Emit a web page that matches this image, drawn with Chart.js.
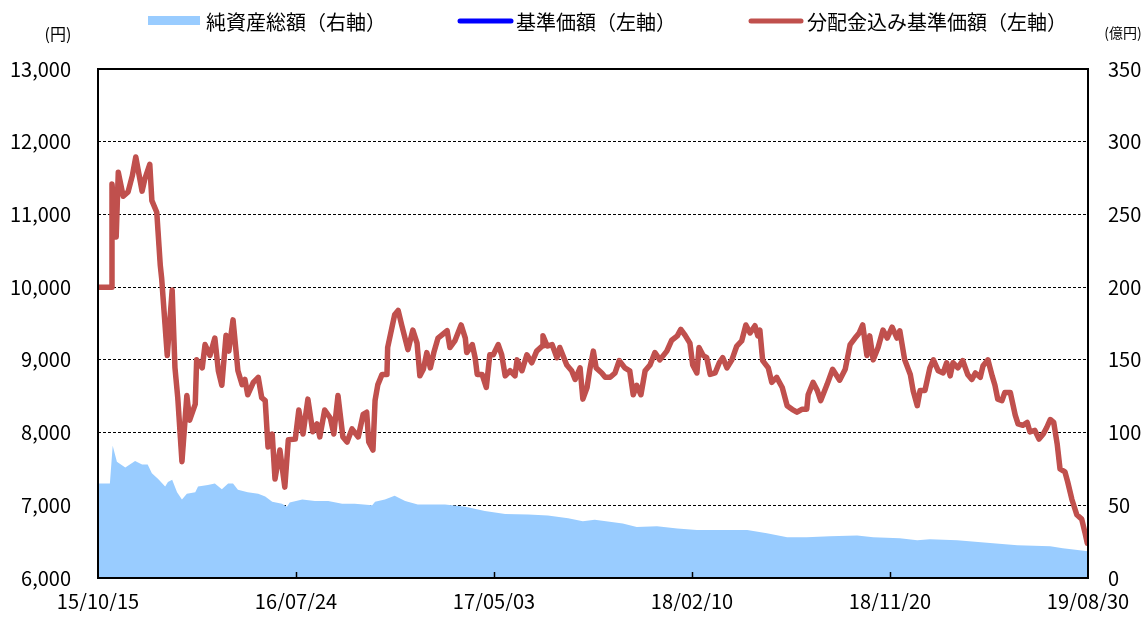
<!DOCTYPE html>
<html lang="ja">
<head>
<meta charset="utf-8">
<title>基準価額・純資産総額の推移</title>
<script src="https://cdn.jsdelivr.net/npm/chart.js@4.4.1/dist/chart.umd.min.js"></script>
<style>
  html, body { margin: 0; padding: 0; background: #fff; }
  #wrap { width: 1148px; height: 617px; position: relative; }
</style>
</head>
<body>
<div id="wrap"><canvas id="navChart"></canvas></div>
<script>
// ─── Data (x = days since 2015/10/15) ──────────────────────────────────────
const xTickDays   = [0, 283, 566, 849, 1132, 1415];
const xTickLabels = ['15/10/15', '16/07/24', '17/05/03', '18/02/10', '18/11/20', '19/08/30'];
const leftTicks   = [6000, 7000, 8000, 9000, 10000, 11000, 12000, 13000];
const rightTicks  = [0, 50, 100, 150, 200, 250, 300, 350];

// 分配金込み基準価額 (円)
const navDays = [
    0, 19, 20, 26, 29, 36, 43, 49, 54, 63, 67, 74, 77, 84, 89, 91, 99, 106, 110, 114,
    120, 127, 131, 139, 141, 149, 153, 160, 167, 172, 177, 183, 187, 193, 200, 206, 210, 214, 222, 229,
    234, 239, 243, 249, 253, 260, 267, 272, 282, 287, 293, 300, 307, 313, 317, 324, 332, 337, 343, 350,
    356, 363, 372, 379, 384, 387, 393, 396, 400, 406, 413, 414, 420, 424, 429, 434, 443, 450, 456, 460,
    465, 470, 475, 480, 486, 499, 503, 510, 519, 525, 527, 535, 539, 542, 549, 555, 560, 565, 572, 577,
    582, 589, 596, 599, 606, 613, 620, 627, 635, 636, 642, 649, 656, 660, 670, 677, 682, 689, 693, 699,
    703, 708, 712, 720, 725, 732, 739, 745, 753, 760, 765, 770, 776, 782, 789, 796, 803, 813, 820, 828,
    833, 839, 846, 850, 856, 859, 865, 870, 875, 882, 888, 893, 899, 906, 913, 920, 926, 932, 939, 943,
    946, 950, 958, 963, 970, 978, 985, 992, 999, 1006, 1013, 1015, 1022, 1028, 1033, 1042, 1050, 1060, 1068, 1075,
    1082, 1088, 1093, 1099, 1103, 1108, 1115, 1122, 1128, 1135, 1142, 1146, 1153, 1161, 1165, 1171, 1175, 1182, 1189, 1194,
    1201, 1208, 1213, 1218, 1222, 1229, 1236, 1243, 1249, 1254, 1261, 1265, 1272, 1278, 1282, 1286, 1292, 1296, 1304, 1311,
    1315, 1322, 1328, 1332, 1339, 1345, 1351, 1356, 1361, 1366, 1371, 1375, 1382, 1386, 1392, 1399, 1406, 1411, 1414, 1415
];
const navValues = [
    10000, 10000, 11420, 10690, 11580, 11250, 11310, 11530, 11790, 11320, 11490, 11690, 11190, 11030, 10300, 10120, 9060, 9960, 8890, 8480,
    7600, 8510, 8170, 8390, 9000, 8890, 9210, 9060, 9300, 8850, 8650, 9340, 9120, 9550, 8850, 8660, 8730, 8520, 8690, 8760,
    8480, 8440, 7800, 7980, 7360, 7760, 7250, 7900, 7910, 8310, 7980, 8460, 8010, 8120, 7940, 8310, 8200, 7980, 8510, 7940,
    7870, 8050, 7940, 8250, 8280, 7870, 7760, 8440, 8660, 8800, 8800, 9170, 9440, 9620, 9680, 9480, 9140, 9410, 9230, 8780,
    8870, 9100, 8890, 9100, 9300, 9400, 9170, 9260, 9480, 9300, 9100, 9210, 9030, 8800, 8800, 8620, 9070, 9070, 9210, 9070,
    8780, 8850, 8780, 9000, 8850, 9070, 8960, 9120, 9190, 9330, 9190, 9210, 9030, 9170, 8930, 8850, 8730, 8890, 8460, 8620,
    8870, 9120, 8890, 8820, 8760, 8760, 8820, 8990, 8890, 8850, 8520, 8650, 8520, 8850, 8930, 9100, 9000, 9120, 9270, 9330,
    9420, 9340, 9230, 8930, 8820, 9170, 9060, 9030, 8800, 8820, 8960, 9030, 8890, 9000, 9190, 9260, 9480, 9370, 9470, 9330,
    9410, 8990, 8890, 8690, 8760, 8620, 8370, 8320, 8280, 8320, 8320, 8520, 8690, 8580, 8440, 8660, 8870, 8720, 8870, 9210,
    9300, 9370, 9480, 9060, 9330, 9000, 9170, 9410, 9300, 9450, 9300, 9400, 9000, 8800, 8580, 8370, 8580, 8580, 8890, 9000,
    8850, 8820, 8960, 8780, 8960, 8890, 8990, 8800, 8730, 8820, 8760, 8920, 9000, 8780, 8650, 8460, 8440, 8550, 8550, 8240,
    8120, 8100, 8140, 8010, 8030, 7910, 7980, 8070, 8180, 8140, 7840, 7500, 7460, 7320, 7080, 6870, 6810, 6610, 6480, 6570
];
// 基準価額 (円) — no distributions in the period, so it runs under the red line
const baseValues = navValues;

// 純資産総額 (億円)
const assetDays = [
    0, 17, 21, 27, 39, 53, 63, 71, 77, 86, 96, 100, 106, 113, 120, 127, 139, 143, 157, 167,
    177, 186, 193, 200, 214, 229, 239, 249, 263, 270, 274, 292, 310, 329, 349, 367, 392, 396, 410, 424,
    439, 457, 496, 525, 553, 582, 615, 643, 672, 693, 710, 750, 770, 799, 828, 856, 893, 928, 956, 985,
    1013, 1046, 1085, 1108, 1146, 1171, 1189, 1228, 1275, 1314, 1361, 1379, 1415
];
const assetValues = [
    65, 65, 91, 80, 76, 80.5, 78, 78, 72, 68, 63, 66, 67.5, 59, 54, 58, 59, 63, 64, 65,
    61, 65, 65, 60.7, 59, 58, 56, 52.5, 51, 49, 52, 54, 53, 53, 51, 51, 50, 52.5, 54, 56.6,
    53, 50.5, 50.5, 49, 46, 44, 43.7, 43, 41, 39, 40, 37.5, 35, 35.5, 34, 33, 33, 33, 30.7, 28,
    28, 28.7, 29.3, 28, 27.3, 26, 26.6, 26, 24, 22.5, 21.8, 20.5, 18.4
];

// ─── Style ────────────────────────────────────────────────────────────────
const FONT = '"Noto Sans CJK JP", "Noto Sans", sans-serif';
const RED  = '#C0504D';
const BLUE = '#0000FF';
const AREA = '#99CCFF';

Chart.defaults.font.family = FONT;
Chart.defaults.color = '#000';

function pairs(days, values) {
    return days.map(function (d, i) { return { x: d, y: values[i] }; });
}

// ─── Frame, inner x ticks, units and legend ───────────────────────────────
const decorPlugin = {
    id: 'decor',
    afterDraw: function (chart) {
        const ctx = chart.ctx;
        const a = chart.chartArea;
        const xs = chart.scales.x;

        ctx.save();
        // plot frame
        ctx.strokeStyle = '#000';
        ctx.lineWidth = 2;
        ctx.strokeRect(a.left, a.top, a.right - a.left, a.bottom - a.top);

        // small inward tick marks on the date axis
        ctx.lineWidth = 1.5;
        xTickDays.slice(1, -1).forEach(function (d) {
            const px = Math.round(xs.getPixelForValue(d)) + 0.5;
            ctx.beginPath();
            ctx.moveTo(px, a.bottom);
            ctx.lineTo(px, a.bottom - 6);
            ctx.stroke();
        });

        // units
        ctx.fillStyle = '#000';
        ctx.textBaseline = 'middle';
        ctx.textAlign = 'center';
        ctx.font = '16px ' + FONT;
        ctx.fillText('(円)', 58, 34);
        ctx.font = '14px ' + FONT;
        ctx.fillText('(億円)', 1123, 33);

        // legend
        ctx.textAlign = 'left';
        ctx.font = '20px ' + FONT;
        ctx.fillStyle = AREA;
        ctx.fillRect(148, 16, 52, 9);
        ctx.fillStyle = '#000';
        ctx.fillText(chart.data.datasets[0].label, 206, 22);

        ctx.lineCap = 'round';
        ctx.lineWidth = 5;
        ctx.strokeStyle = BLUE;
        ctx.beginPath(); ctx.moveTo(460, 21); ctx.lineTo(511, 21); ctx.stroke();
        ctx.fillText(chart.data.datasets[1].label, 516, 22);

        ctx.strokeStyle = RED;
        ctx.beginPath(); ctx.moveTo(751, 21); ctx.lineTo(801, 21); ctx.stroke();
        ctx.fillText(chart.data.datasets[2].label, 807, 22);
        ctx.restore();
    }
};

new Chart(document.getElementById('navChart'), {
    type: 'line',
    data: {
        datasets: [
            {
                label: '純資産総額（右軸）',
                data: pairs(assetDays, assetValues),
                yAxisID: 'y1',
                backgroundColor: AREA,
                borderWidth: 0,
                fill: 'origin',
                pointRadius: 0,
                order: 3
            },
            {
                label: '基準価額（左軸）',
                data: pairs(navDays, baseValues),
                yAxisID: 'y',
                borderColor: BLUE,
                borderWidth: 4,
                borderJoinStyle: 'round',
                borderCapStyle: 'round',
                pointRadius: 0,
                fill: false,
                order: 2
            },
            {
                label: '分配金込み基準価額（左軸）',
                data: pairs(navDays, navValues),
                yAxisID: 'y',
                borderColor: RED,
                borderWidth: 5.5,
                borderJoinStyle: 'round',
                borderCapStyle: 'round',
                pointRadius: 0,
                fill: false,
                order: 1
            }
        ]
    },
    options: {
        responsive: true,
        maintainAspectRatio: false,
        animation: false,
        layout: { padding: { top: 69, left: 0, right: 0, bottom: 0 } },
        plugins: {
            legend: { display: false },
            tooltip: { enabled: false }
        },
        scales: {
            x: {
                type: 'linear',
                min: 0,
                max: 1415,
                afterBuildTicks: function (s) { s.ticks = xTickDays.map(function (v) { return { value: v }; }); },
                afterFit: function (s) { s.height = 33; },
                ticks: {
                    autoSkip: false,
                    maxRotation: 0,
                    padding: 11,
                    color: '#000',
                    font: { size: 20 },
                    callback: function (v) { return xTickLabels[xTickDays.indexOf(v)]; }
                },
                grid: { display: false, drawTicks: false },
                border: { display: false }
            },
            y: {
                position: 'left',
                min: 6000,
                max: 13000,
                afterBuildTicks: function (s) { s.ticks = leftTicks.map(function (v) { return { value: v }; }); },
                afterFit: function (s) { s.width = 98; },
                ticks: {
                    padding: 27,
                    color: '#000',
                    font: { size: 20 },
                    callback: function (v) { return v.toLocaleString('en-US'); }
                },
                grid: { color: '#000', lineWidth: 1, drawTicks: false },
                border: { display: false, dash: [3, 2] }
            },
            y1: {
                position: 'right',
                min: 0,
                max: 350,
                afterBuildTicks: function (s) { s.ticks = rightTicks.map(function (v) { return { value: v }; }); },
                afterFit: function (s) { s.width = 60; },
                ticks: {
                    padding: 20,
                    color: '#000',
                    font: { size: 20 }
                },
                grid: { display: false, drawTicks: false },
                border: { display: false }
            }
        }
    },
    plugins: [decorPlugin]
});
</script>
</body>
</html>
